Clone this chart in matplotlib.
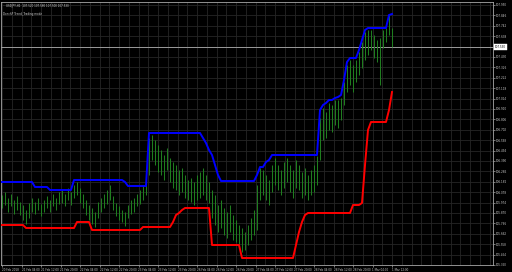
import matplotlib
matplotlib.use("Agg")
import matplotlib.pyplot as plt
import numpy as np

# ---- data (USDJPY H1) ----
highs = [106.05, 106.08, 106.02, 106.06, 106.00, 106.04, 105.98, 105.95, 105.90, 105.97, 106.02,
         105.98, 106.02, 105.96, 106.00, 106.04, 106.00, 106.06, 106.02, 106.08, 106.10, 106.06, 106.12, 106.08,
         106.15, 106.18, 106.12, 106.06, 106.00, 105.95, 105.92, 105.88, 105.98,
         106.02, 106.06, 106.10, 106.15, 106.04, 105.97, 105.94, 105.90, 105.88,
         105.95, 106.00, 106.02, 106.06, 106.10, 106.14, 106.30, 106.62, 106.65,
         106.60, 106.55, 106.50, 106.45, 106.52, 106.42, 106.38, 106.35, 106.30, 106.32, 106.25, 106.20, 106.22,
         106.18, 106.25, 106.28, 106.32, 106.25, 106.18, 106.10, 106.05, 105.95, 106.00, 105.92, 105.88, 105.95,
         105.85, 105.80, 105.75, 105.72, 105.68, 105.75, 105.82, 105.90, 106.15, 106.32, 106.30, 106.25, 106.20,
         106.35, 106.42, 106.35, 106.30, 106.38, 106.42, 106.35, 106.30, 106.40, 106.35, 106.28, 106.32, 106.25,
         106.30, 106.35, 106.44, 106.82, 106.92, 106.88, 106.97, 106.95, 107.00, 107.00, 107.02, 107.18, 107.35,
         107.40, 107.35, 107.40, 107.48, 107.58, 107.68, 107.70, 107.70, 107.65, 107.60, 107.62, 107.70, 107.72,
         107.85, 107.72]
lows = [105.92, 105.95, 105.88, 105.94, 105.86, 105.90, 105.85, 105.80, 105.76, 105.82, 105.88,
        105.86, 105.90, 105.84, 105.88, 105.92, 105.88, 105.94, 105.90, 105.96, 105.97, 105.94, 106.00, 105.95,
        106.02, 106.05, 105.97, 105.92, 105.85, 105.80, 105.76, 105.73, 105.82,
        105.88, 105.92, 105.96, 106.00, 105.90, 105.84, 105.80, 105.78, 105.74,
        105.82, 105.86, 105.88, 105.94, 105.96, 106.00, 106.05, 106.25, 106.40,
        106.35, 106.28, 106.25, 106.20, 106.30, 106.18, 106.12, 106.10, 106.05, 106.08, 106.02, 106.00, 105.98,
        105.95, 106.00, 106.02, 106.05, 106.00, 105.97, 105.82, 105.75, 105.68, 105.72, 105.65, 105.62, 105.68,
        105.60, 105.58, 105.56, 105.48, 105.50, 105.55, 105.60, 105.65, 105.70, 106.00, 106.05, 106.00, 105.95,
        106.08, 106.15, 106.10, 106.05, 106.12, 106.18, 106.08, 106.02, 106.12, 106.10, 106.02, 106.05, 106.00,
        106.05, 106.08, 106.15, 106.40, 106.60, 106.62, 106.70, 106.68, 106.75, 106.72, 106.80, 106.95, 107.08,
        107.15, 107.08, 107.18, 107.25, 107.32, 107.40, 107.45, 107.50, 107.42, 107.38, 107.15, 107.52, 107.58,
        107.65, 107.53]
upper = ([106.18] * 11 + [106.13] * 5 + [106.10] * 8 + [106.20] * 17 + [106.18] + [106.14] * 7
         + [106.67] * 18 + [106.62, 106.57, 106.50, 106.45, 106.35, 106.25] + [106.19] * 12
         + [106.25, 106.33, 106.33, 106.38, 106.40] + [106.45] * 16
         + [106.90, 106.95, 106.97, 107.00, 107.00, 107.02, 107.03, 107.05, 107.20, 107.38]
         + [107.42] * 3 + [107.50, 107.60, 107.70] + [107.72] * 7 + [107.85, 107.86])
lower = ([105.75] * 8 + [105.72] * 17 + [105.78] * 5 + [105.70] * 17 + [105.73] * 10
         + [105.78, 105.85, 105.87, 105.90] + [105.92] * 9 + [105.55] * 10 + [105.42] * 18
         + [105.55, 105.68, 105.78, 105.85] + [105.87] * 15 + [105.95] * 3 + [105.97]
         + [106.35, 106.70] + [106.78] * 6 + [106.90, 107.08])
current_price = 107.53
time_labels = ["20 Feb 2018", "21 Feb 04:00", "21 Feb 12:00", "21 Feb 20:00", "22 Feb 04:00",
               "22 Feb 12:00", "22 Feb 20:00", "23 Feb 04:00", "23 Feb 12:00", "23 Feb 20:00",
               "26 Feb 04:00", "26 Feb 12:00", "26 Feb 20:00", "27 Feb 04:00", "27 Feb 12:00",
               "27 Feb 20:00", "28 Feb 04:00", "28 Feb 12:00", "28 Feb 20:00", "1 Mar 04:00", "1 Mar 12:00"]
price_top = 107.95
price_step = 0.104
n_price_labels = 26
header = "USDJPY,H1  107.520 107.560 107.500 107.530"
indicator = "DonchP Trend_Trading mode"

# ---- figure ----
FONT = ['Liberation Sans Narrow', 'DejaVu Sans']
FS = 2.0
fig = plt.figure(figsize=(5.12, 2.72), dpi=100, facecolor='black')
ax = fig.add_axes([1 / 512, 7 / 272, 492 / 512, 263 / 272], facecolor='black')

x = np.arange(len(highs))
xmin, xmax = -1 / 3, 491 / 3
ymin, ymax = 105.35, 107.98
ax.set_xlim(xmin, xmax)
ax.set_ylim(ymin, ymax)

# grid
ygrid = [price_top - k * price_step for k in range(n_price_labels)]
xgrid = np.arange(0, xmax, 3.25)
for g in ygrid:
    ax.axhline(g, color='#262626', lw=0.6, zorder=0)
for g in xgrid:
    ax.axvline(g, color='#262626', lw=0.6, zorder=0)

ax.vlines(x, lows, highs, color='#1f7d1f', lw=0.75, zorder=2)
ax.plot(x, upper, color='#0000ff', lw=1.4, zorder=3)
ax.plot(x, lower, color='#ff0000', lw=1.4, zorder=3)
ax.axhline(current_price, color='#9a9a9a', lw=0.7, zorder=1)

# axes styling
for s in ax.spines.values():
    s.set_color('#a8a8a8')
    s.set_linewidth(0.6)
ax.yaxis.tick_right()
ax.set_yticks(ygrid)
ax.set_yticklabels(["" if abs(v - current_price) < price_step / 2 else f"{v:.3f}" for v in ygrid])
ax.set_xticks([6.5 * k for k in range(len(time_labels))])
ax.set_xticklabels(time_labels, ha='left')
ax.tick_params(axis='both', colors='#a8a8a8', labelcolor='#c8c8c8', length=1.5, width=0.5,
               labelsize=FS, pad=0.8)
for lab in ax.get_xticklabels() + ax.get_yticklabels():
    lab.set_family(FONT)

# current price label
ax.text(1.004, current_price, f"{current_price:.3f}", transform=ax.get_yaxis_transform(),
        fontsize=FS, family=FONT, color='black', va='center', ha='left',
        bbox=dict(boxstyle='square,pad=0.3', fc='white', ec='white', lw=0.3), clip_on=False)

# header texts
ax.text(0.010, 0.992, header, transform=ax.transAxes, fontsize=FS, family=FONT,
        color='#d0d0d0', va='top', ha='left')
ax.text(0.004, 0.962, indicator, transform=ax.transAxes, fontsize=FS, family=FONT,
        color='#d0d0d0', va='top', ha='left')

fig.savefig('out.png', dpi=100, facecolor='black')
